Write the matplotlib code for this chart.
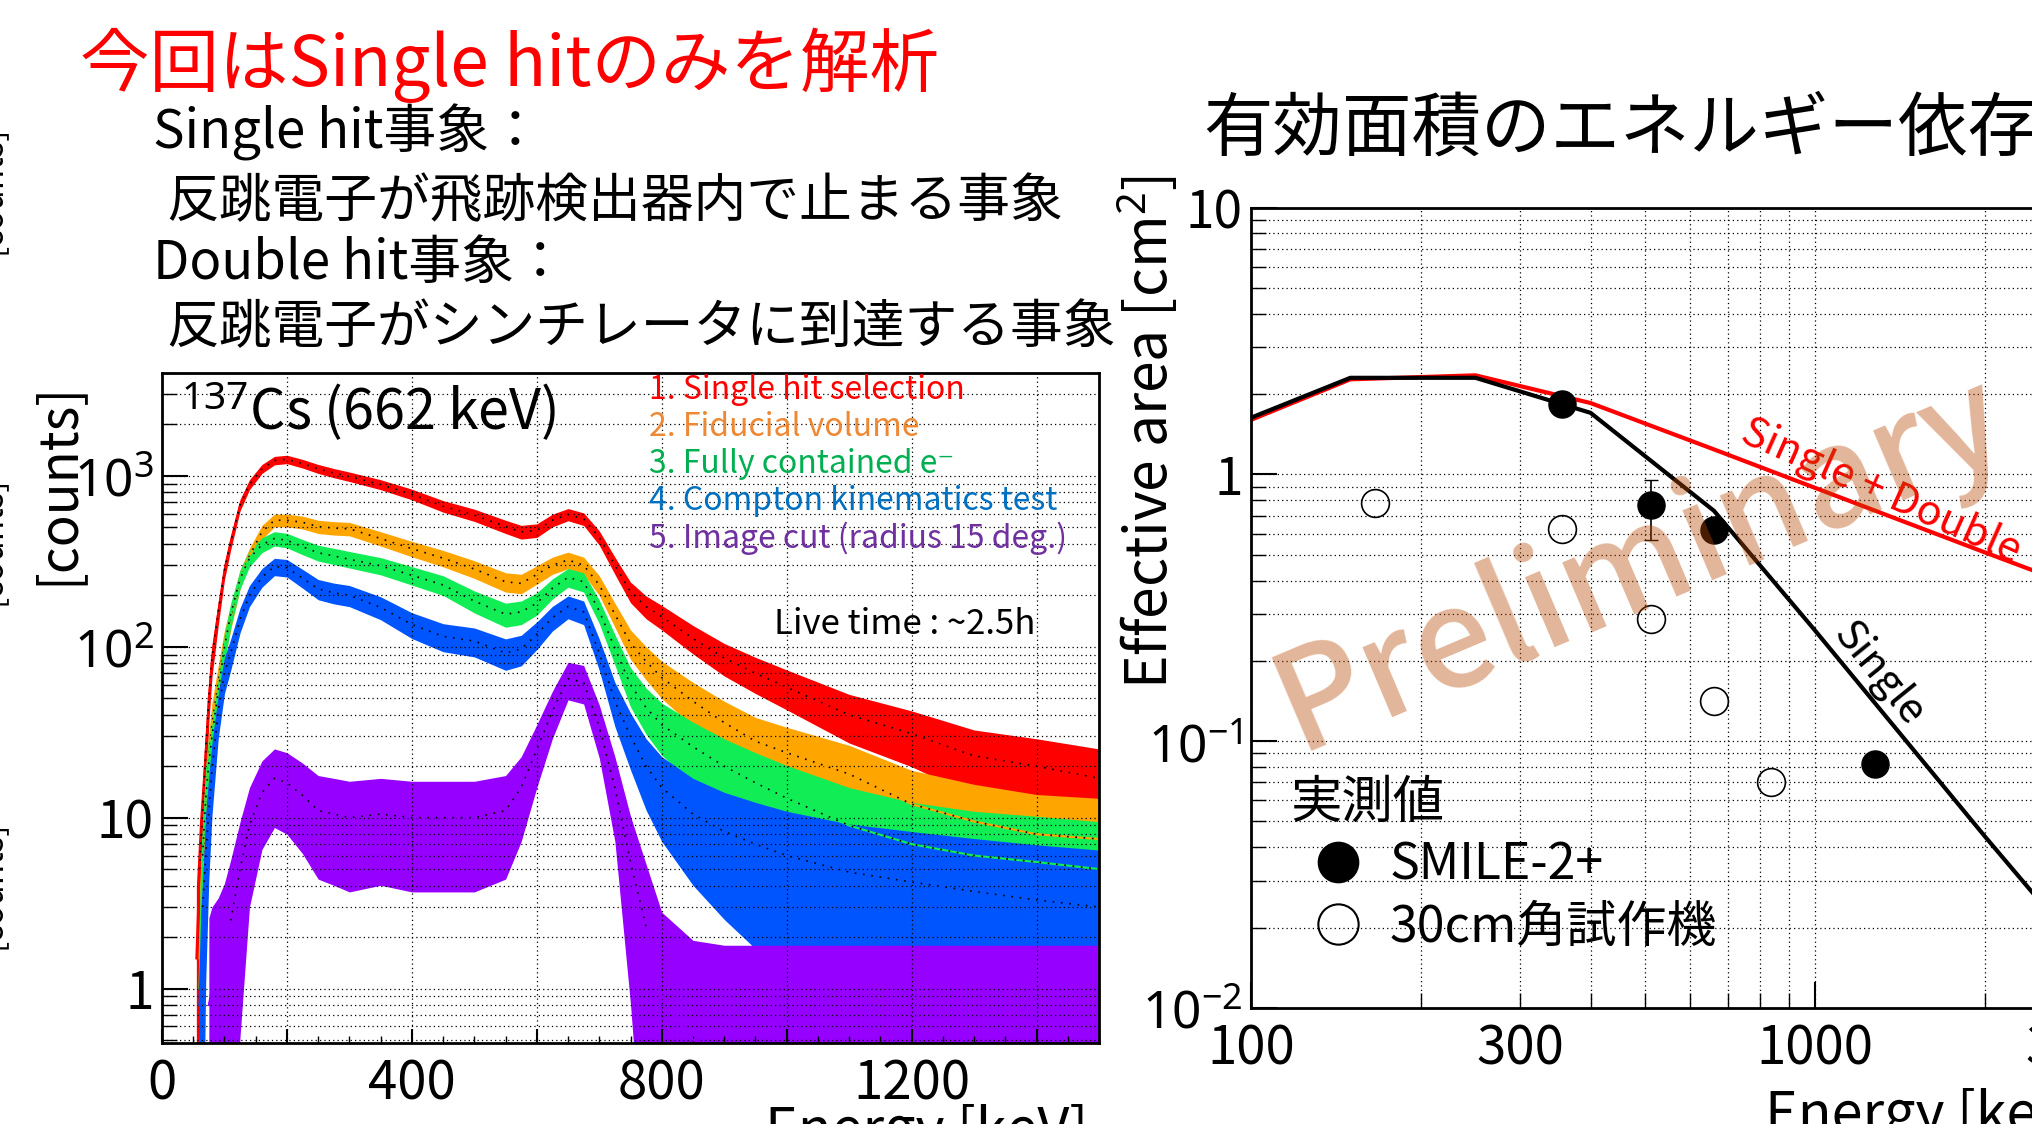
import numpy as np
import matplotlib
matplotlib.use('Agg')
import matplotlib.pyplot as plt
from matplotlib.lines import Line2D
from matplotlib.ticker import FixedLocator, LogLocator, NullFormatter, FuncFormatter, MultipleLocator

plt.rcParams['font.family'] = ['Noto Sans CJK JP', 'DejaVu Sans']
plt.rcParams['mathtext.fontset'] = 'custom'
plt.rcParams['mathtext.rm'] = 'Noto Sans'
plt.rcParams['mathtext.it'] = 'Noto Sans:italic'
plt.rcParams['mathtext.bf'] = 'Noto Sans:bold'

# --- left panel: 137Cs spectra (counts per bin) ---
energy = [50, 55, 60, 65, 70, 75, 80, 90, 100, 110, 125, 140, 160, 180, 200,
          225, 250, 275, 300, 350, 400, 450, 500, 550, 575, 600, 625, 650, 675,
          700, 725, 750, 775, 800, 850, 900, 950, 1000, 1100, 1200, 1300, 1400, 1500]
red = [0, 1.5, 5, 11, 24, 50, 85, 158, 280, 410, 677, 890, 1100, 1230, 1250,
       1180, 1100, 1040, 990, 890, 780, 665, 590, 505, 470, 480, 550, 595, 560,
       435, 300, 210, 172, 150, 112, 86, 70, 58, 40, 31, 23, 20, 17]
orange = [0, 0, 1.5, 5, 13, 22, 35, 62, 105, 150, 250, 340, 470, 550, 550,
          535, 505, 495, 490, 430, 375, 330, 285, 240, 235, 265, 300, 322, 300,
          230, 155, 105, 82, 66, 48, 36, 28, 24, 18, 12, 9.5, 8, 7.5]
green = [0, 0, 1, 6, 13, 21, 30, 55, 100, 155, 250, 330, 395, 430, 420,
         385, 355, 340, 325, 298, 262, 230, 185, 155, 160, 180, 220, 255, 240,
         162, 98, 60, 44, 35, 26, 20, 16, 13, 9, 7, 6, 5.5, 5]
blue = [0, 0, 0.8, 3, 6, 11, 19, 42, 70, 92, 145, 200, 255, 295, 290,
        252, 218, 207, 200, 170, 135, 115, 108, 92, 97, 118, 148, 172, 160,
        92, 48, 30, 20, 15, 10.5, 8.3, 7, 6, 4.8, 4.2, 3.7, 3.3, 3]
purple = [0, 0, 0, 0, 0, 0.8, 1, 1.2, 1.6, 2.5, 5, 9, 14, 17, 16,
          13.5, 11, 10.5, 10, 10.5, 10, 10, 10, 11, 15, 25, 42, 65, 62,
          34, 15, 5.5, 2.3, 0.9, 0.5, 0.45, 0.45, 0.45, 0.45, 0.45, 0.45, 0.45, 0.45]
hist_colors = ['#ff0000', '#ffa500', '#11ee55', '#0055ff', '#9600ff']
cut_labels = ['1. Single hit selection', '2. Fiducial volume', '3. Fully contained e⁻',
              '4. Compton kinematics test', '5. Image cut (radius 15 deg.)']
cut_text_colors = ['#ff0000', '#ee8833', '#00b050', '#0070c0', '#7030a0']

# --- right panel: effective area vs energy ---
area_e = [100, 150, 250, 400, 662, 1000, 2000, 3000]
single = [1.63, 2.30, 2.30, 1.70, 0.73, 0.26, 0.044, 0.016]
single_double = [1.60, 2.27, 2.35, 1.85, 1.24, 0.89, 0.51, 0.37]
smile_e = [356, 511, 662, 1275]
smile_a = [1.84, 0.77, 0.62, 0.082]
smile_err_lo = [0, 0.205, 0, 0]
smile_err_hi = [0, 0.18, 0, 0]
proto_e = [166, 356, 511, 662, 835]
proto_a = [0.78, 0.625, 0.288, 0.141, 0.0706]

W, H = 2032, 1124
fig = plt.figure(figsize=(W / 100, H / 100), dpi=100)


def box(x0, y0, x1, y1):
    return [x0 / W, 1 - y1 / H, (x1 - x0) / W, (y1 - y0) / H]


def fx(x):
    return x / W


def fy(y):
    return 1 - y / H


# slide texts
fig.text(fx(80), fy(65), '今回はSingle hitのみを解析', color='red', fontsize=50, va='center')
fig.text(fx(153), fy(132), 'Single hit事象：', fontsize=38, va='center')
fig.text(fx(166), fy(201), '反跳電子が飛跡検出器内で止まる事象', fontsize=38, va='center')
fig.text(fx(153), fy(263), 'Double hit事象：', fontsize=38, va='center')
fig.text(fx(166), fy(328), '反跳電子がシンチレータに到達する事象', fontsize=38, va='center')
fig.text(fx(1203), fy(130), '有効面積のエネルギー依存', fontsize=50, va='center')
for yy in [190, 541, 885]:
    fig.text(fx(-10), fy(yy), '[counts]', rotation=90, fontsize=24, ha='center', va='center')

# ---------------- left panel ----------------
ax1 = fig.add_axes(box(162, 373, 1099, 1043))
e = np.array(energy, dtype=float)
for vals, col in zip([red, orange, green, blue, purple], hist_colors):
    c = np.array(vals, dtype=float)
    spread = 2.0 * np.sqrt(c)
    lo = np.clip(c - spread, 0.05, None)
    hi = c + spread
    ax1.fill_between(e, lo, hi, where=c > 0, color=col, lw=0)
    ax1.plot(e[c > 0], c[c > 0], color=col, lw=1.5)
    m = c >= 2
    ax1.plot(e[m], c[m], color='k', ls=(0, (1, 4)), lw=1.2)

ax1.set_yscale('log')
ax1.set_xlim(0, 1500)
ax1.set_ylim(0.48, 4000)
ax1.set_xticks(np.arange(0, 1401, 200),
               ['0', '', '400', '', '800', '', '1200', ''])
ax1.xaxis.set_minor_locator(MultipleLocator(50))
ax1.yaxis.set_major_locator(FixedLocator([1, 10, 100, 1000]))
ax1.set_yticklabels(['1', '10', r'$10^{2}$', r'$10^{3}$'])
ax1.yaxis.set_minor_locator(LogLocator(base=10, subs=np.arange(2, 10)))
ax1.yaxis.set_minor_formatter(NullFormatter())
ax1.xaxis.grid(True, which='major', color='k', ls=(0, (1, 2.5)), lw=0.9)
ax1.yaxis.grid(True, which='both', color='k', ls=(0, (1, 2.5)), lw=0.9)
ax1.tick_params(axis='y', which='major', direction='in', length=19, width=1.5,
                labelsize=37, pad=6)
ax1.tick_params(axis='y', which='minor', direction='in', length=11, width=1)
ax1.tick_params(axis='x', which='major', direction='in', length=10, width=1.5,
                labelsize=38, pad=10)
ax1.tick_params(axis='x', which='minor', direction='in', length=5, width=1)
for s in ax1.spines.values():
    s.set_linewidth(2)

ax1.set_ylabel('[counts]', fontsize=38)
ax1.yaxis.set_label_coords(-0.083, 0.835)
ax1.set_xlabel('Energy [keV]', fontsize=40, ha='left', va='top')
ax1.xaxis.set_label_coords(0.6436, -0.09)

ax1.text(0.02, 0.942, r'$^{137}$Cs (662 keV)', transform=ax1.transAxes,
         fontsize=40, va='center')
ax1.text(0.653, 0.624, 'Live time : ~2.5h', transform=ax1.transAxes,
         fontsize=25, va='center')
proxies = [Line2D([], [], lw=0) for _ in cut_labels]
ax1.legend(proxies, cut_labels, loc='upper left', bbox_to_anchor=(0.52, 0.998),
           frameon=False, fontsize=23, handlelength=0, handletextpad=0,
           labelcolor=cut_text_colors, borderpad=0, borderaxespad=0,
           labelspacing=0.15)

# ---------------- right panel ----------------
ax2 = fig.add_axes(box(1251, 207.5, 1251 + 1128, 1008))
ax2.set_xscale('log')
ax2.set_yscale('log')
ax2.plot(area_e, single_double, color='red', lw=3)
ax2.plot(area_e, single, color='k', lw=3)
ax2.plot(proto_e, proto_a, 'o', mfc='none', mec='k', ms=20, mew=1.2, zorder=4)
ax2.errorbar(smile_e, smile_a, yerr=[smile_err_lo, smile_err_hi], fmt='o',
             color='k', ms=19.5, elinewidth=1.2, capsize=5, zorder=4)
ax2.set_xlim(100, 10000)
ax2.set_ylim(0.01, 10)

ax2.xaxis.set_major_locator(FixedLocator([100, 1000, 10000]))
ax2.set_xticklabels(['100', '1000', ''])
ax2.xaxis.set_minor_locator(LogLocator(base=10, subs=np.arange(2, 10)))
ax2.xaxis.set_minor_formatter(FuncFormatter(
    lambda v, _: f'{v:.0f}' if round(v) in (300, 3000) else ''))
ax2.yaxis.set_major_locator(FixedLocator([0.01, 0.1, 1, 10]))
ax2.set_yticklabels([r'$10^{-2}$', r'$10^{-1}$', '1', '10'])
ax2.yaxis.set_minor_locator(LogLocator(base=10, subs=np.arange(2, 10)))
ax2.yaxis.set_minor_formatter(NullFormatter())
ax2.grid(True, which='both', color='k', ls=(0, (1, 2.5)), lw=0.9)
ax2.tick_params(axis='both', which='major', direction='in', length=19, width=1.5,
                labelsize=37)
ax2.tick_params(axis='x', which='both', pad=10, labelsize=38)
ax2.tick_params(axis='y', which='major', pad=6)
ax2.tick_params(axis='both', which='minor', direction='in', length=11, width=1)
for s in ax2.spines.values():
    s.set_linewidth(2)

ax2.set_ylabel('Effective area [cm$^{2}$]', fontsize=41)
ax2.yaxis.set_label_coords(-0.062, 0.72)
ax2.set_xlabel('Energy [keV]', fontsize=40, ha='left', va='top')
ax2.xaxis.set_label_coords(0.4557, -0.099)

ax2.text(1310, 0.86, 'Single + Double', color='red', fontsize=30, rotation=-24,
         ha='center', va='center')
ax2.text(1297, 0.179, 'Single', color='k', fontsize=30, rotation=-51,
         ha='center', va='center')
ax2.text(490, 0.46, 'Preliminary', fontsize=100, rotation=23, color='#b84700',
         alpha=0.4, fontweight='medium', ha='center', va='center', zorder=10)

handles = [Line2D([], [], marker='o', ls='none', color='k', ms=29),
           Line2D([], [], marker='o', ls='none', mfc='none', mec='k', mew=1.5, ms=29)]
ax2.legend(handles, ['SMILE-2+', '30cm角試作機'], title='実測値', title_fontsize=37,
           fontsize=36, frameon=False, alignment='left', loc='upper left',
           bbox_to_anchor=(0.0346, 0.29), borderaxespad=0, borderpad=0,
           handlelength=1.9, handletextpad=0.1, labelspacing=0.2)

fig.savefig('out.png', dpi=100)
